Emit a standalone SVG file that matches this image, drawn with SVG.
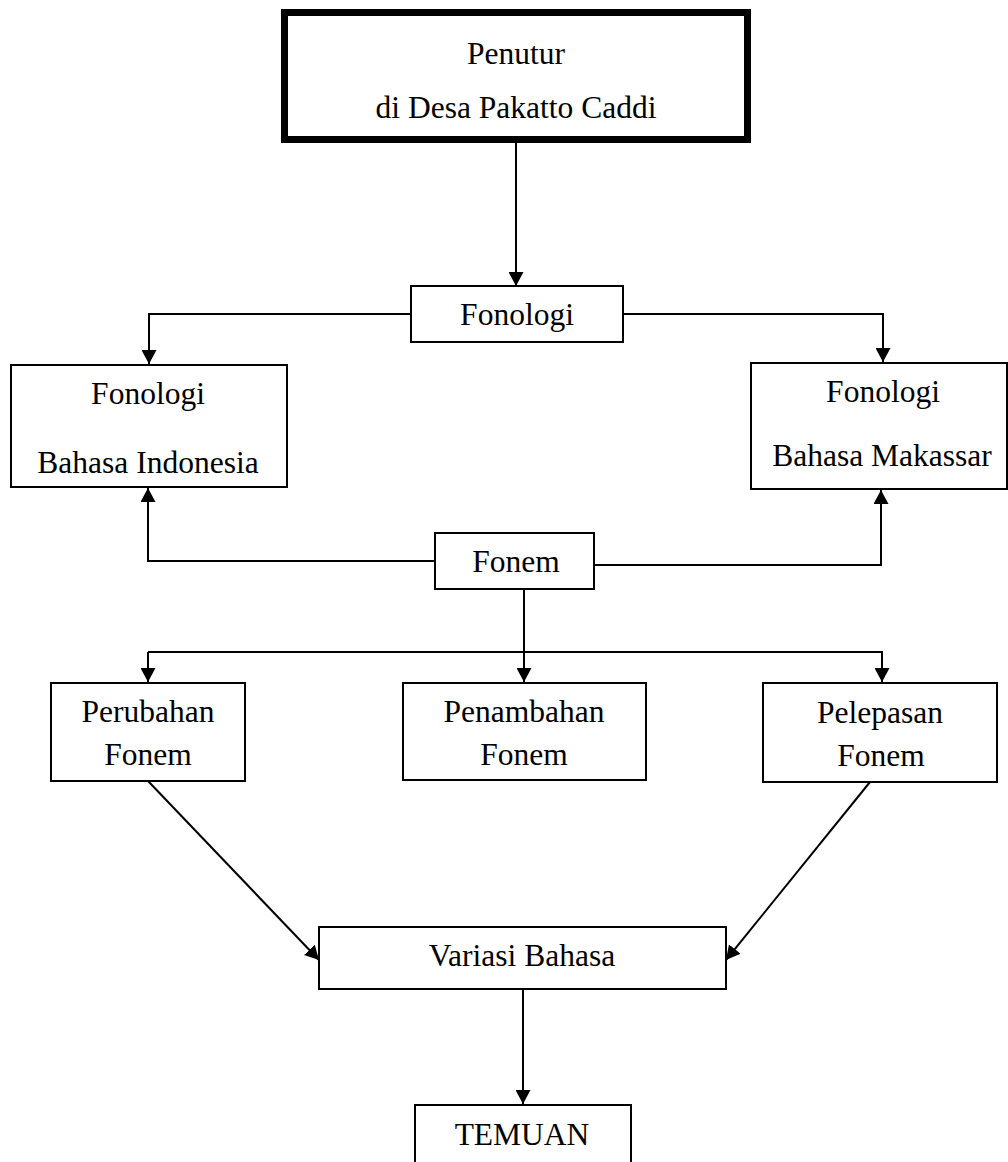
<svg xmlns="http://www.w3.org/2000/svg" width="1008" height="1162" viewBox="0 0 1008 1162">
<style>
  .box{fill:#fff;stroke:#000;stroke-width:2}
  .thick{fill:#fff;stroke:#000;stroke-width:7}
  .t{font-family:"Liberation Serif","Times New Roman",serif;font-size:31.5px;fill:#000;text-anchor:middle}
  .c{fill:none;stroke:#000;stroke-width:2}
</style>
<defs>
  <marker id="ah" markerWidth="14" markerHeight="15" refX="14" refY="7.5" orient="auto" markerUnits="userSpaceOnUse" viewBox="0 0 14 15">
    <path d="M0,0 L14,7.5 L0,15 z" fill="#000"/>
  </marker>
</defs>
<rect width="1008" height="1162" fill="#fff"/>
<g id="penutur">
  <rect class="thick" x="284.5" y="12.5" width="463" height="127"/>
  <text class="t" x="516" y="64">Penutur</text>
  <text class="t" x="516" y="118">di Desa Pakatto Caddi</text>
</g>
<g id="fonologi">
  <rect class="box" x="411" y="286" width="212" height="56"/>
  <text class="t" x="517" y="325">Fonologi</text>
</g>
<g id="fonologi-indonesia">
  <rect class="box" x="11" y="365" width="276" height="122"/>
  <text class="t" x="148" y="404">Fonologi</text>
  <text class="t" x="148" y="473">Bahasa Indonesia</text>
</g>
<g id="fonologi-makassar">
  <rect class="box" x="751" y="363" width="256" height="126"/>
  <text class="t" x="883" y="402">Fonologi</text>
  <text class="t" x="882" y="466">Bahasa Makassar</text>
</g>
<g id="fonem">
  <rect class="box" x="435" y="533" width="159" height="56"/>
  <text class="t" x="516" y="572">Fonem</text>
</g>
<g id="perubahan">
  <rect class="box" x="51" y="683" width="194" height="98"/>
  <text class="t" x="148" y="722">Perubahan</text>
  <text class="t" x="148" y="765">Fonem</text>
</g>
<g id="penambahan">
  <rect class="box" x="403" y="683" width="243" height="97"/>
  <text class="t" x="524" y="722">Penambahan</text>
  <text class="t" x="524" y="765">Fonem</text>
</g>
<g id="pelepasan">
  <rect class="box" x="763" y="683" width="234" height="99"/>
  <text class="t" x="880" y="723">Pelepasan</text>
  <text class="t" x="881" y="766">Fonem</text>
</g>
<g id="variasi">
  <rect class="box" x="319" y="927" width="407" height="62"/>
  <text class="t" x="522" y="966">Variasi Bahasa</text>
</g>
<g id="temuan">
  <rect class="box" x="415" y="1105" width="216" height="80"/>
  <text class="t" x="522" y="1145">TEMUAN</text>
</g>
<g id="connectors">
  <path class="c" d="M516,143 V286" marker-end="url(#ah)"/>
  <path class="c" d="M411,314 H149 V364" marker-end="url(#ah)"/>
  <path class="c" d="M623,314 H883 V362" marker-end="url(#ah)"/>
  <path class="c" d="M435,561 H148 V488" marker-end="url(#ah)"/>
  <path class="c" d="M594,565 H881 V490" marker-end="url(#ah)"/>
  <path class="c" d="M524,589 V682" marker-end="url(#ah)"/>
  <path class="c" d="M148,652 H882 V682" marker-end="url(#ah)"/>
  <path class="c" d="M148,652 V682" marker-end="url(#ah)"/>
  <path class="c" d="M148,781 L319,960" marker-end="url(#ah)"/>
  <path class="c" d="M870,782 L726,960" marker-end="url(#ah)"/>
  <path class="c" d="M523,989 V1104" marker-end="url(#ah)"/>
</g>
</svg>
